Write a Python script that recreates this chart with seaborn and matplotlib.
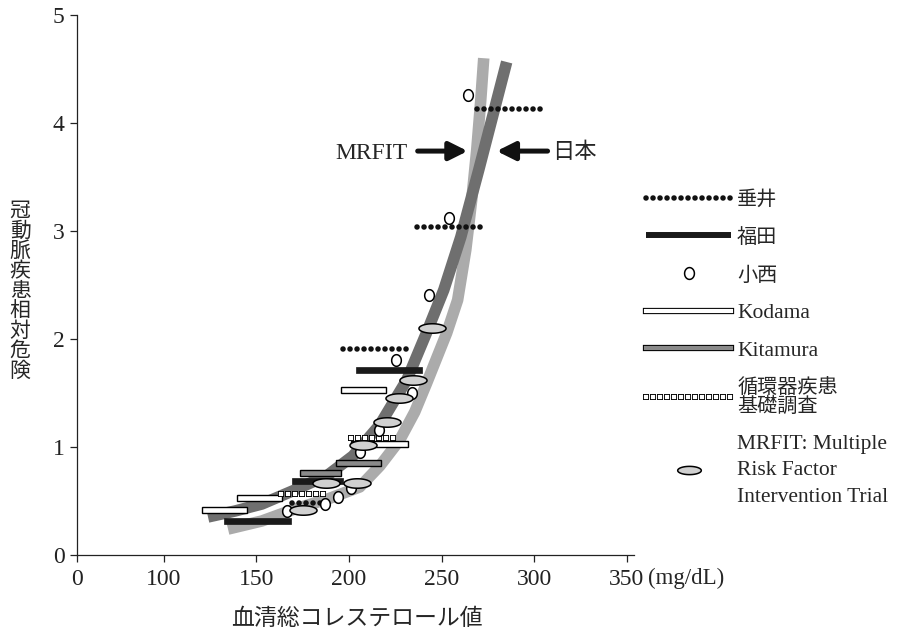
import numpy as np
import matplotlib
matplotlib.use("Agg")
import matplotlib.pyplot as plt
import matplotlib.patheffects as pe
from matplotlib.lines import Line2D
from matplotlib.path import Path
import seaborn as sns

# Risk curves
mrfit_curve_x = [134.6, 152.9, 170.7, 188.6, 205.8, 216.6, 227.4, 235.5, 242.0, 252.8,
                 258.7, 263.1, 266.3, 269.0, 271.2, 272.8]
mrfit_curve_y = [0.24, 0.315, 0.426, 0.519, 0.63, 0.824, 1.065, 1.324, 1.593, 2.056,
                 2.361, 2.824, 3.287, 3.75, 4.213, 4.60]
japan_curve_x = [123.8, 138.3, 152.9, 170.7, 188.6, 202.1, 216.6, 231.2, 242.5, 251.2,
                 260.4, 270.1, 277.1, 285.2]
japan_curve_y = [0.352, 0.407, 0.472, 0.602, 0.741, 0.917, 1.204, 1.62, 2.083, 2.454,
                 2.944, 3.565, 4.028, 4.565]

# 垂井 (dotted ranges)
tarui_x0 = [269.0, 236.6, 196.9, 169.1]
tarui_x1 = [305.7, 272.2, 233.6, 186.4]
tarui_y = [4.13, 3.04, 1.91, 0.485]

# 福田 (black bars)
fukuda_x0 = [204.0, 169.0, 132.6]
fukuda_x1 = [239.7, 196.8, 168.6]
fukuda_y = [1.71, 0.685, 0.315]

# 小西 (open circles)
konishi_x = [264.1, 253.9, 243.1, 225.3, 233.9, 216.1, 205.8, 201.0, 194.0, 186.9, 166.4]
konishi_y = [4.26, 3.12, 2.41, 1.81, 1.50, 1.16, 0.95, 0.62, 0.54, 0.47, 0.41]

# Kodama (white bars)
kodama_x0 = [195.9, 201.0, 139.3, 120.7]
kodama_x1 = [220.2, 231.9, 163.9, 145.0]
kodama_y = [1.53, 1.03, 0.53, 0.42]

# Kitamura (gray bars)
kitamura_x0 = [193.2, 173.4]
kitamura_x1 = [217.5, 195.4]
kitamura_y = [0.855, 0.76]

# 循環器疾患基礎調査 (square ranges)
junkanki_x0 = [201.0, 163.0]
junkanki_x1 = [226.0, 187.5]
junkanki_y = [1.086, 0.565]

# MRFIT (ellipses)
mrfit_x = [175.2, 187.5, 204.1, 207.5, 220.4, 226.9, 234.4, 244.7]
mrfit_y = [0.42, 0.67, 0.67, 1.02, 1.23, 1.45, 1.62, 2.10]

x_ticks = [0, 100, 150, 200, 250, 300, 350]
y_ticks = [0, 1, 2, 3, 4, 5]

DARK = "#6f6f6f"
LIGHT = "#ababab"
ELLIPSE_FILL = "#d0d0d0"
KITA_FILL = "#8a8a8a"
BAR_H = 0.055


def ellipse_path(rx, ry):
    t = np.linspace(0, 2 * np.pi, 64)
    return Path(np.column_stack([rx * np.cos(t), ry * np.sin(t)]), closed=True)


# x axis is compressed between 0 and 100
def fwd(x):
    x = np.asarray(x, dtype=float)
    return np.where(x < 100, 100 - (100 - x) * 0.47, x)


def inv(u):
    u = np.asarray(u, dtype=float)
    return np.where(u < 100, 100 - (100 - u) / 0.47, u)


def outlined(fill, lw_in, lw_out):
    return dict(color=fill, lw=lw_in, solid_capstyle="projecting", dash_capstyle="projecting",
                path_effects=[pe.Stroke(linewidth=lw_out, foreground="black"), pe.Normal()])


def make_plot():
    sns.set_theme(style="ticks")
    plt.rcParams["font.family"] = ["Liberation Serif", "Noto Sans CJK JP"]
    plt.rcParams["axes.edgecolor"] = "#222222"

    fig = plt.figure(figsize=(8.99, 6.34), dpi=100)
    ax = fig.add_axes([77 / 899, 79 / 634, 557 / 899, 540 / 634])
    ax.set_xscale("function", functions=(fwd, inv))

    # curves
    curve_kw = dict(lw=8.3, sort=False, estimator=None, solid_capstyle="butt",
                    solid_joinstyle="round")
    sns.lineplot(x=mrfit_curve_x, y=mrfit_curve_y, ax=ax, color=LIGHT, zorder=1, **curve_kw)
    sns.lineplot(x=japan_curve_x, y=japan_curve_y, ax=ax, color=DARK, zorder=2, **curve_kw)

    # bars
    ax.barh(fukuda_y, np.subtract(fukuda_x1, fukuda_x0), left=fukuda_x0, height=BAR_H,
            color="#1a1a1a", edgecolor="#1a1a1a", lw=0.5, zorder=3)
    ax.barh(kodama_y, np.subtract(kodama_x1, kodama_x0), left=kodama_x0, height=BAR_H,
            color="white", edgecolor="black", lw=1.0, zorder=3)
    ax.barh(kitamura_y, np.subtract(kitamura_x1, kitamura_x0), left=kitamura_x0, height=BAR_H,
            color=KITA_FILL, edgecolor="black", lw=1.0, zorder=3)

    # dotted and square ranges
    tarui_style = dict(color="#111111", lw=4.0, linestyle=(0, (0.01, 1.25)),
                       dash_capstyle="round", zorder=4)
    for x0, x1, y in zip(tarui_x0, tarui_x1, tarui_y):
        ax.plot([x0, x1], [y, y], **tarui_style)
    sq_style = dict(outlined("white", 3.0, 4.3), linestyle=(0, (0.01, 1.67)), zorder=4)
    for x0, x1, y in zip(junkanki_x0, junkanki_x1, junkanki_y):
        ax.plot([x0, x1], [y, y], **sq_style)

    circle = ellipse_path(0.83, 1.0)
    oval = ellipse_path(1.0, 0.35)
    sns.scatterplot(x=konishi_x, y=konishi_y, ax=ax, marker=circle, s=70, color="white",
                    edgecolor="black", linewidth=1.1, zorder=5)
    sns.scatterplot(x=mrfit_x, y=mrfit_y, ax=ax, marker=oval, s=380, color=ELLIPSE_FILL,
                    edgecolor="black", linewidth=1.1, zorder=6)

    # arrows
    arrow = dict(arrowstyle="-|>,head_length=0.5,head_width=0.25", color="#111111",
                 lw=3.6, shrinkA=0, shrinkB=0, mutation_scale=22)
    ax.annotate("", xy=(264.1, 3.74), xytext=(237.1, 3.74), arrowprops=arrow)
    ax.annotate("", xy=(279.8, 3.74), xytext=(307.3, 3.74), arrowprops=arrow)
    ax.text(231.7, 3.72, "MRFIT", ha="right", va="center", fontsize=17)
    ax.text(310.0, 3.72, "日本", ha="left", va="center", fontsize=16)

    # axes
    ax.set_xlim(0, 354)
    ax.set_ylim(0, 5)
    ax.set_xticks(x_ticks)
    ax.set_xticklabels([str(v) for v in x_ticks])
    ax.set_yticks(y_ticks)
    ax.minorticks_off()
    sns.despine(ax=ax)
    ax.tick_params(direction="out", length=5, width=0.9, labelsize=17, colors="#222222")
    ax.tick_params(axis="x", pad=5)
    ax.tick_params(axis="y", pad=4)
    for sp in ax.spines.values():
        sp.set_linewidth(0.9)
    ax.text(361.5, -0.043, "(mg/dL)", transform=ax.get_xaxis_transform(), ha="left",
            va="center", fontsize=16.5)

    ax.set_xlabel("血清総コレステロール値", fontsize=16.5, va="center")
    ax.xaxis.set_label_coords(0.503, -0.12)
    ax.set_ylabel("\n".join("冠動脈疾患相対危険"), rotation=0, fontsize=15, linespacing=1.05,
                  va="center", ha="center")
    ax.yaxis.set_label_coords(-0.102, 0.487)

    # legend
    handles = [
        Line2D([], [], color="#111111", lw=4.0, linestyle=(0, (0.01, 1.25)), dash_capstyle="round"),
        Line2D([], [], color="#1a1a1a", lw=4.3, solid_capstyle="butt"),
        Line2D([], [], ls="none", marker=circle, ms=8.5, mfc="white", mec="black", mew=1.1),
        Line2D([], [], **outlined("white", 3.0, 4.5)),
        Line2D([], [], **outlined(KITA_FILL, 3.0, 4.5)),
        Line2D([], [], **outlined("white", 3.0, 4.3), linestyle=(0, (0.01, 1.67))),
        Line2D([], [], ls="none", marker=oval, ms=17, mfc=ELLIPSE_FILL, mec="black", mew=1.1),
    ]
    labels = ["垂井", "福田", "小西", "Kodama", "Kitamura", "循環器疾患\n基礎調査",
              "MRFIT: Multiple\nRisk Factor\nIntervention Trial"]
    leg = fig.legend(handles, labels, loc="upper left", bbox_to_anchor=(646 / 899, 1 - 190 / 634),
                     frameon=False, fontsize=15.5, handlelength=3.95, handletextpad=0.28,
                     borderpad=0, borderaxespad=0, labelspacing=0.82)
    texts = leg.get_texts()
    for t in texts[:3] + [texts[5]]:
        t.set_fontsize(14.5)
    texts[5].set_linespacing(1.0)
    texts[6].set_linespacing(1.55)

    fig.savefig("out.png", dpi=100, facecolor="white")


if __name__ == "__main__":
    make_plot()
